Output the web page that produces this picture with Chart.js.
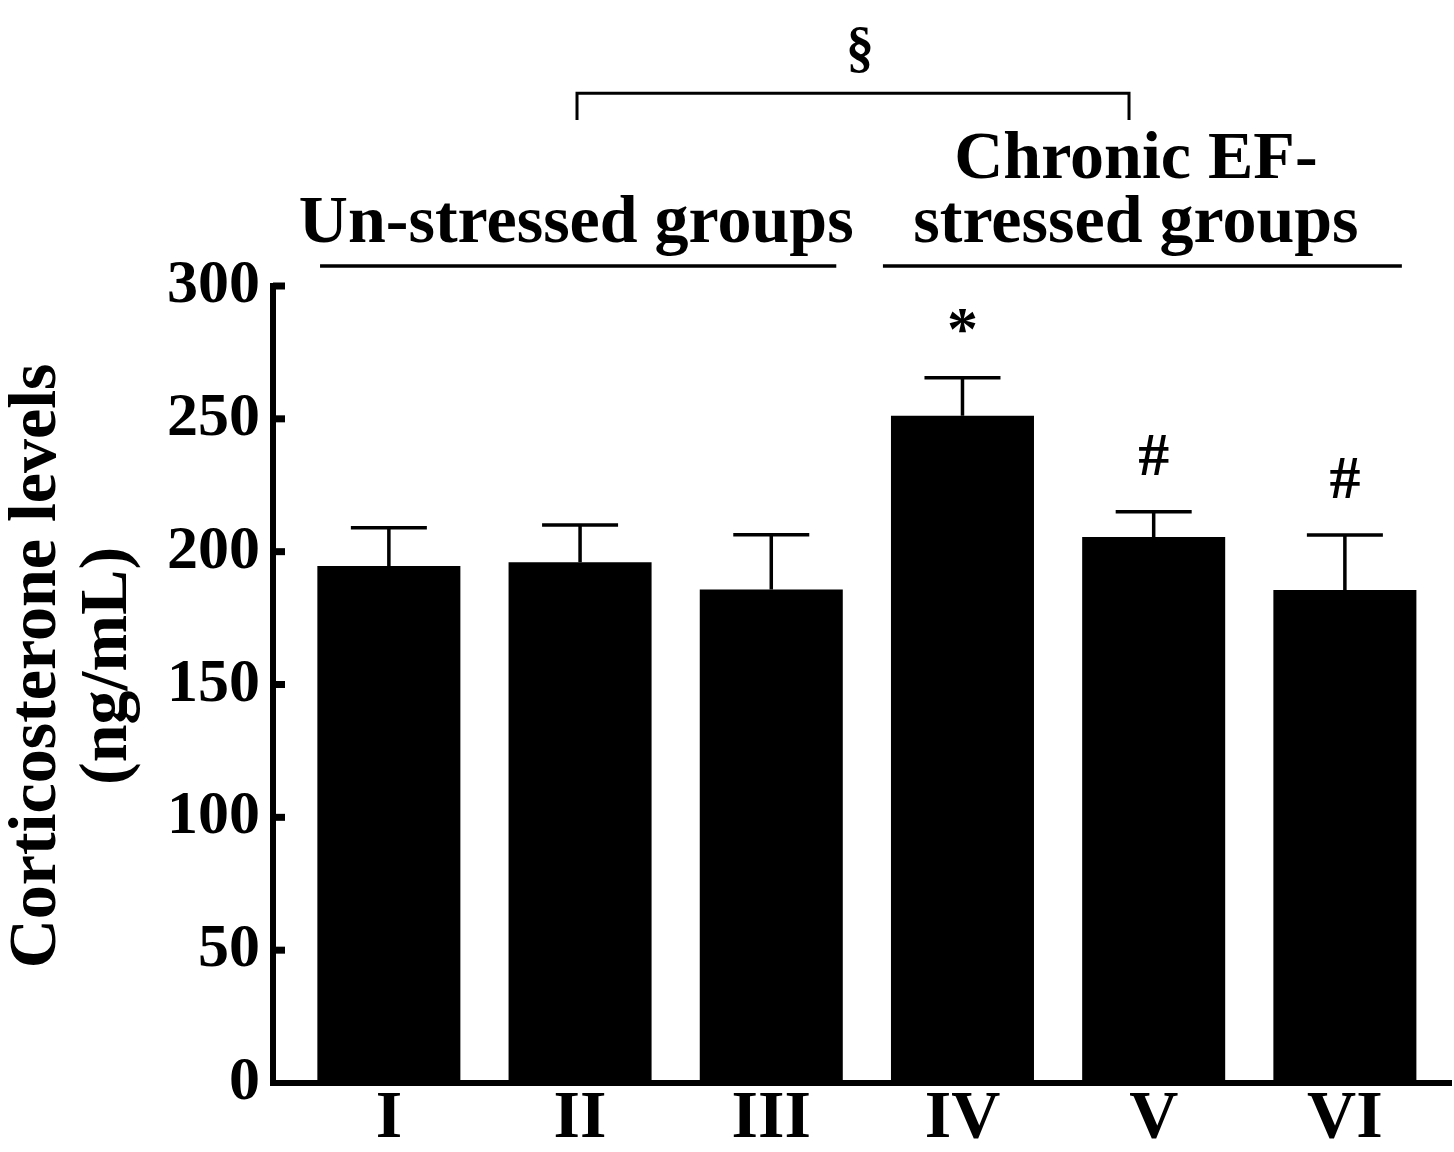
<!DOCTYPE html>
<html><head><meta charset="utf-8">
<script src="https://cdn.jsdelivr.net/npm/chart.js@4.4.0/dist/chart.umd.min.js"></script>
<style>html,body{margin:0;padding:0;background:#fff}#wrap{width:1454px;height:1152px;position:relative}</style>
</head><body><div id="wrap"><canvas id="c"></canvas></div>
<script>
// ---- data ----
const categories = ['I', 'II', 'III', 'IV', 'V', 'VI'];
const meanValues = [194.6, 196.0, 185.8, 251.2, 205.5, 185.6];
const semValues = [14.4, 14.0, 20.6, 14.3, 9.5, 20.7];
const significanceMarks = ['', '', '', '*', '#', '#'];
const yTickValues = [0, 50, 100, 150, 200, 250, 300];
const yAxisTitle = ['Corticosterone levels', '(ng/mL)'];
const groupTitles = [['Un-stressed groups'], ['Chronic EF-', 'stressed groups']];
const bracketMark = '\u00A7';

// ---- layout (axis units) ----
const layoutCfg = {
  groupCenters: [0.98, 3.907],
  groupSpans: [[-0.36, 2.34], [2.584, 5.298]],
  underlineValue: 307.5,
  titleBaselineValue: 316.6,
  titleLineGap: 64,
  bracket: { from: 0.984, to: 3.871, top: 372.6, legEnd: 362.5, markX: 2.464, markY: 388.8 },
  yTitleCenterValue: 157,
  yTitleBaselines: [55, 126],
  markGap: 57
};
const FAMILY = '"Liberation Serif", "Times New Roman", serif';

function drawCentered(ctx, text, cx, cy) {
  const m = ctx.measureText(text);
  ctx.textAlign = 'center';
  ctx.textBaseline = 'alphabetic';
  ctx.fillText(text, cx, cy + (m.actualBoundingBoxAscent - m.actualBoundingBoxDescent) / 2);
}

const annot = {
  id: 'annot',
  afterDatasetsDraw(chart) {
    const { ctx, chartArea } = chart;
    const x = chart.scales.x, y = chart.scales.y;
    ctx.save();
    ctx.strokeStyle = '#000';
    ctx.fillStyle = '#000';
    ctx.lineCap = 'butt';
    ctx.lineWidth = 7;
    yTickValues.forEach(v => {
      if (v === 0) return;
      const py = y.getPixelForValue(v);
      ctx.beginPath();
      ctx.moveTo(chartArea.left, py);
      ctx.lineTo(chartArea.left + 12, py);
      ctx.stroke();
    });
    meanValues.forEach((m, i) => {
      const px = x.getPixelForValue(i);
      const yb = y.getPixelForValue(m);
      const yt = y.getPixelForValue(m + semValues[i]);
      ctx.lineWidth = 3.5;
      ctx.beginPath();
      ctx.moveTo(px, yb); ctx.lineTo(px, yt);
      ctx.moveTo(px - 38, yt); ctx.lineTo(px + 38, yt);
      ctx.stroke();
      const mk = significanceMarks[i];
      if (mk) {
        ctx.font = 'bold 62px ' + FAMILY;
        drawCentered(ctx, mk, px, yt - layoutCfg.markGap);
      }
    });
    ctx.restore();
  },
  afterDraw(chart) {
    const { ctx } = chart;
    const x = chart.scales.x, y = chart.scales.y;
    ctx.save();
    ctx.strokeStyle = '#000';
    ctx.fillStyle = '#000';
    ctx.font = 'bold 68px ' + FAMILY;
    ctx.textAlign = 'center';
    ctx.textBaseline = 'alphabetic';
    groupTitles.forEach((lines, g) => {
      const cx = x.getPixelForValue(layoutCfg.groupCenters[g]);
      const baseY = y.getPixelForValue(layoutCfg.titleBaselineValue);
      lines.forEach((t, k) => {
        ctx.fillText(t, cx, baseY - (lines.length - 1 - k) * layoutCfg.titleLineGap);
      });
      const [a, b] = layoutCfg.groupSpans[g];
      const uy = y.getPixelForValue(layoutCfg.underlineValue);
      ctx.lineWidth = 3.5;
      ctx.beginPath();
      ctx.moveTo(x.getPixelForValue(a), uy);
      ctx.lineTo(x.getPixelForValue(b), uy);
      ctx.stroke();
    });
    const bk = layoutCfg.bracket;
    const bx1 = x.getPixelForValue(bk.from), bx2 = x.getPixelForValue(bk.to);
    const by = y.getPixelForValue(bk.top), bl = y.getPixelForValue(bk.legEnd);
    ctx.lineWidth = 3;
    ctx.lineJoin = 'miter';
    ctx.beginPath();
    ctx.moveTo(bx1, bl); ctx.lineTo(bx1, by); ctx.lineTo(bx2, by); ctx.lineTo(bx2, bl);
    ctx.stroke();
    ctx.font = 'bold 56px ' + FAMILY;
    drawCentered(ctx, bracketMark, x.getPixelForValue(bk.markX), y.getPixelForValue(bk.markY));
    ctx.font = 'bold 68px ' + FAMILY;
    ctx.translate(y.left, y.getPixelForValue(layoutCfg.yTitleCenterValue));
    ctx.rotate(-Math.PI / 2);
    ctx.textAlign = 'center';
    ctx.textBaseline = 'alphabetic';
    yAxisTitle.forEach((t, k) => ctx.fillText(t, 0, layoutCfg.yTitleBaselines[k]));
    ctx.restore();
  }
};

new Chart(document.getElementById('c'), {
  type: 'bar',
  data: {
    datasets: [{
      data: meanValues.map((v, i) => ({ x: i, y: v })),
      backgroundColor: '#000',
      borderWidth: 0,
      barPercentage: 0.748,
      categoryPercentage: 1
    }]
  },
  options: {
    responsive: true,
    maintainAspectRatio: false,
    animation: false,
    layout: { padding: { top: 286, right: 3, left: 0, bottom: 0 } },
    plugins: { legend: { display: false }, tooltip: { enabled: false } },
    scales: {
      x: {
        type: 'linear',
        offset: false,
        min: -0.606,
        max: 5.555,
        afterBuildTicks: s => { s.ticks = categories.map((_, i) => ({ value: i })); },
        grid: { display: false, drawTicks: false, offset: false },
        border: { display: true, width: 6, color: '#000' },
        ticks: {
          autoSkip: false, maxRotation: 0, minRotation: 0,
          callback: v => categories[v] ?? '',
          color: '#000',
          font: { family: FAMILY, size: 68, weight: 'bold', lineHeight: 1 },
          padding: 2
        },
        afterFit: s => { s.height = 69; }
      },
      y: {
        min: 0,
        max: 300,
        afterBuildTicks: s => { s.ticks = yTickValues.map(v => ({ value: v })); },
        grid: { display: false, drawTicks: false },
        border: { display: true, width: 6, color: '#000' },
        ticks: {
          color: '#000',
          font: { family: FAMILY, size: 62, weight: 'bold' },
          padding: 13
        },
        afterFit: s => { s.width = 273; }
      }
    }
  },
  plugins: [annot]
});
</script>
</body></html>
